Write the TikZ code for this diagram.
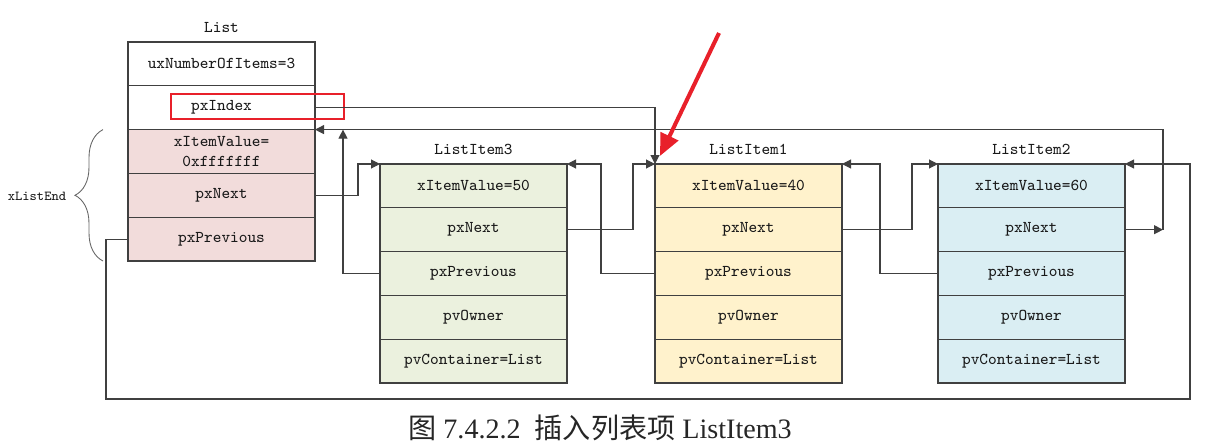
\documentclass[tikz,border=0pt]{standalone}
\usepackage{fontspec}
\usepackage{tikz}
\usetikzlibrary{arrows.meta, positioning, decorations.pathreplacing}
\newfontfamily\cjkfont{Noto Sans CJK SC}
\newfontfamily\capfont{Liberation Serif}
\definecolor{endfill}{HTML}{F2DCDB}
\definecolor{greenfill}{HTML}{EBF1DE}
\definecolor{yellowfill}{HTML}{FFF2CC}
\definecolor{bluefill}{HTML}{DAEEF3}
\definecolor{linegray}{HTML}{404040}
\definecolor{markred}{HTML}{E8202A}
\def\xList{2.56}
\def\xItemC{7.60}
\def\xItemA{13.10}
\def\xItemB{18.76}
\def\yList{-0.84}
\def\yItem{-3.28}
\tikzset{
  cell/.style={draw=linegray, line width=0.6pt, minimum width=3.74cm, minimum height=0.876cm,
    inner sep=0pt, outer sep=0pt, text=black!90, font=\ttfamily\fontsize{9.4}{11}\selectfont},
  ttl/.style={inner sep=1pt, text=black!90, font=\ttfamily\fontsize{9.4}{11}\selectfont},
  wire/.style={draw=linegray, line width=0.6pt},
  ptr/.style={wire, -{Triangle[length=1.8mm, width=1.8mm]}},
  brc/.style={draw=black!60, line width=0.5pt, decorate, decoration={brace, amplitude=0.56cm}},
  redarrow/.style={draw=markred, line width=2.3pt, -{Triangle[length=4.4mm, width=3.8mm]}},
}
\newcommand{\listitem}[5]{%
  \node[cell, fill=#3, anchor=north west] (#1a) at (#2,\yItem) {xItemValue=#5};
  \node[cell, fill=#3, below=0pt of #1a] (#1b) {pxNext};
  \node[cell, fill=#3, below=0pt of #1b] (#1c) {pxPrevious};
  \node[cell, fill=#3, below=0pt of #1c] (#1d) {pvOwner};
  \node[cell, fill=#3, below=0pt of #1d] (#1e) {pvContainer=List};
  \node[ttl, above=1.4mm of #1a] (#1t) {#4};}

\begin{document}
\begin{tikzpicture}
  \useasboundingbox (0,0) rectangle (24.24,-8.92);

  % the list head
  \node[cell, anchor=north west] (la) at (\xList,\yList) {uxNumberOfItems=3};
  \node[cell, below=0pt of la] (lb) {pxIndex};
  \node[cell, fill=endfill, below=0pt of lb, align=center] (lc) {xItemValue=\\0xfffffff};
  \node[cell, fill=endfill, below=0pt of lc] (ld) {pxNext};
  \node[cell, fill=endfill, below=0pt of ld] (le) {pxPrevious};
  \node[ttl, above=1.4mm of la] (lt) {List};
  \node[draw=markred, line width=1.2pt, minimum width=3.46cm, minimum height=0.5cm] (hl) at (5.15,-2.13) {};

  % xListEnd brace
  \draw[brc] ([xshift=-5mm]le.south west) -- ([xshift=-5mm]lc.north west);
  \node[ttl, font=\ttfamily\fontsize{7.8}{9}\selectfont] (endlbl) at (0.74,-3.92) {xListEnd};

  % the three items
  \listitem{ic}{\xItemC}{greenfill}{ListItem3}{50}
  \listitem{ia}{\xItemA}{yellowfill}{ListItem1}{40}
  \listitem{ib}{\xItemB}{bluefill}{ListItem2}{60}

  % pointers
  \coordinate (upTip) at ([xshift=0.56cm]lc.north east);
  \coordinate (topR) at ([xshift=16.96cm]lc.north east);
  \coordinate (botL) at (2.12,-7.98);
  \coordinate (botR) at (23.80,-7.98);
  \draw[ptr] (lb.east) -| (iaa.north west);
  \draw[ptr] (ld.east) -- ++(0.86,0) |- (ica.north west);
  \draw[ptr] (icc.west) -| (upTip);
  \draw[ptr] (icb.east) -- ++(1.32,0) |- (iaa.north west);
  \draw[ptr] (iac.west) -- ++(-1.08,0) |- (ica.north east);
  \draw[ptr] (iab.east) -- ++(1.40,0) |- (iba.north west);
  \draw[ptr] (ibc.west) -- ++(-1.16,0) |- (iaa.north east);
  \draw[ptr] (ibb.east) -- (ibb.east -| topR);
  \draw[ptr] (ibb.east -| topR) -- (topR) -- (lc.north east);
  \draw[ptr] (le.west) -| (botL) -- (botR) |- (iba.north east);

  % red marker
  \coordinate (redtail) at (14.38,-0.66);
  \draw[redarrow] (redtail) -- ([xshift=1mm, yshift=1.6mm]iaa.north west);

  % caption
  \node[font=\capfont\fontsize{16}{19}\selectfont, text=black!85] (cap) at (12.0,-8.56)
    {{\cjkfont 图} 7.4.2.2\ \ {\cjkfont 插入列表项} ListItem3};
\end{tikzpicture}
\end{document}
